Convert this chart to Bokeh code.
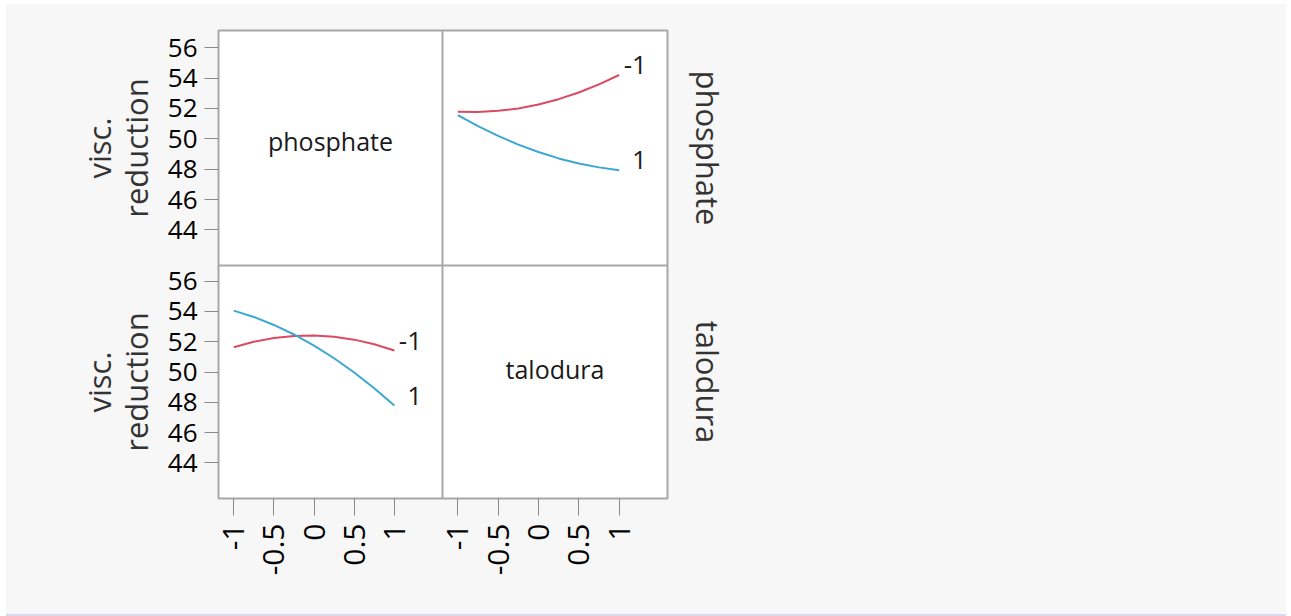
import math
from bokeh.plotting import figure
from bokeh.layouts import row
from bokeh.models import FixedTicker, LinearAxis, Range1d, Span
from bokeh.core.properties import value
from bokeh.embed import file_html
from bokeh.resources import INLINE

# ---------------- data ----------------
factors = ["phosphate", "talodura"]
response = "visc.\nreduction"
line_levels = ["-1", "1"]
x_levels = [-1, -0.75, -0.5, -0.25, 0, 0.25, 0.5, 0.75, 1]

# top-right cell: response vs talodura, one line per phosphate level
tr_phosphate_m1 = [51.78, 51.76, 51.84, 52.00, 52.26, 52.61, 53.05, 53.58, 54.20]
tr_phosphate_p1 = [51.56, 50.84, 50.19, 49.62, 49.13, 48.71, 48.38, 48.12, 47.93]
# bottom-left cell: response vs phosphate, one line per talodura level
bl_talodura_m1 = [51.64, 52.00, 52.25, 52.38, 52.41, 52.33, 52.14, 51.83, 51.42]
bl_talodura_p1 = [54.06, 53.64, 53.11, 52.48, 51.75, 50.91, 49.97, 48.93, 47.78]

y_ticks = [44, 46, 48, 50, 52, 54, 56]
x_ticks = [-1, -0.5, 0, 0.5, 1]
x_tick_labels = ["-1", "-0.5", "0", "0.5", "1"]

# ---------------- style / geometry ----------------
FONT = "Open Sans"
RED = "#dc4a62"
BLUE = "#3ba7d2"
FRAME = "#a8a8a8"
TICK = "#8a8a8a"
BG = "#f7f7f7"
TXT = "#1a1a1a"
TITLE = "#333333"

x_span = (-1.19, 1.6)        # both columns
top_span = (41.66, 57.13)    # top row
bot_span = (41.64, 57.04)    # bottom row
LEFT_W, RIGHT_W = 224, 225   # pixel widths of the two columns
TOP_H, BOT_H = 235, 233      # pixel heights of the two rows
FRAME_W = LEFT_W + RIGHT_W
FRAME_H = TOP_H + BOT_H

PAGE_L, PAGE_T, PAGE_R, H = 6, 4, 1286, 610
FRAME_L, FRAME_T = 218, 30
SPLIT_L = 160                 # left title strip | main plot
MAIN_R = FRAME_L + FRAME_W + 4
BORDER_TOP = FRAME_T - PAGE_T
BORDER_BOTTOM = H - BORDER_TOP - FRAME_H

ppx_l = LEFT_W / (x_span[1] - x_span[0])
ppx_r = RIGHT_W / (x_span[1] - x_span[0])
ppy_t = TOP_H / (top_span[1] - top_span[0])
ppy_b = BOT_H / (bot_span[1] - bot_span[0])

# main ranges = left column / top row ; extra ranges = right column / bottom row
x_main = Range1d(x_span[0], x_span[0] + FRAME_W / ppx_l)
y_main = Range1d(top_span[1] - FRAME_H / ppy_t, top_span[1])
x_right = Range1d(x_span[1] - FRAME_W / ppx_r, x_span[1])
y_bottom = Range1d(bot_span[0], bot_span[0] + FRAME_H / ppy_b)


def strip(x0, x1):
    s = figure(width=x1 - x0, height=H, x_range=Range1d(x0, x1),
               y_range=Range1d(y_main.start, y_main.end),
               output_backend="svg", toolbar_location=None,
               x_axis_location=None, y_axis_location=None,
               min_border_left=0, min_border_right=0,
               min_border_top=BORDER_TOP, min_border_bottom=BORDER_BOTTOM)
    s.extra_y_ranges = {"bottom": Range1d(y_bottom.start, y_bottom.end)}
    s.grid.visible = False
    s.background_fill_color = BG
    s.border_fill_color = BG
    s.outline_line_color = None
    return s


def two_rows(s, x, texts, angle, **kw):
    style = dict(angle=angle, text_align="center", text_baseline="middle",
                 text_font=value(FONT), text_font_size="31px", text_color=TITLE, **kw)
    s.text(x=[x], y=[(top_span[0] + top_span[1]) / 2], text=[texts[0]], **style)
    s.text(x=[x], y=[(bot_span[0] + bot_span[1]) / 2], text=[texts[1]],
           y_range_name="bottom", **style)


# ---- left strip: response titles ----
left = strip(PAGE_L, SPLIT_L)
two_rows(left, 117, [response, response], math.pi / 2, text_line_height=0.9)

# ---- right strip: factor names ----
right = strip(MAIN_R, PAGE_R)
two_rows(right, 707, factors, -math.pi / 2)

# ---- main plot: the 2x2 cells ----
p = figure(width=MAIN_R - SPLIT_L, height=H, x_range=x_main, y_range=y_main,
           output_backend="svg", toolbar_location=None,
           x_axis_location=None, y_axis_location=None,
           min_border_left=FRAME_L - SPLIT_L, min_border_right=4,
           min_border_top=BORDER_TOP, min_border_bottom=BORDER_BOTTOM)
p.extra_x_ranges = {"right": x_right}
p.extra_y_ranges = {"bottom": y_bottom}
p.grid.visible = False
p.background_fill_color = "white"
p.border_fill_color = BG
p.outline_line_color = FRAME
p.outline_line_width = 2

p.add_layout(Span(location=x_span[1], dimension="height", line_color=FRAME, line_width=2))
p.add_layout(Span(location=top_span[0], dimension="width", line_color=FRAME, line_width=2))


def right_to_main(v):
    return x_span[0] + (LEFT_W + (v - x_span[0]) * ppx_r) / ppx_l


def bottom_to_main(v):
    return top_span[1] - (TOP_H + (bot_span[1] - v) * ppy_b) / ppy_t


yt = list(y_ticks) + [bottom_to_main(v) for v in y_ticks]
yl = [str(v) for v in y_ticks] * 2
yax = LinearAxis(ticker=FixedTicker(ticks=yt))
yax.major_label_overrides = dict(zip(yt, yl))
yax.axis_line_color = None
yax.major_tick_line_color = TICK
yax.major_tick_out = 14
yax.major_tick_in = 0
yax.minor_tick_line_color = None
yax.major_label_text_font = FONT
yax.major_label_text_font_size = "26px"
yax.major_label_text_color = "black"
yax.major_label_standoff = 7
p.add_layout(yax, "left")

xt = list(x_ticks) + [right_to_main(v) for v in x_ticks]
xl = list(x_tick_labels) * 2
xax = LinearAxis(ticker=FixedTicker(ticks=xt))
xax.major_label_overrides = dict(zip(xt, xl))
xax.axis_line_color = None
xax.major_tick_line_color = TICK
xax.major_tick_out = 17
xax.major_tick_in = 0
xax.minor_tick_line_color = None
xax.major_label_orientation = math.pi / 2
xax.major_label_text_font = FONT
xax.major_label_text_font_size = "30px"
xax.major_label_text_color = "black"
xax.major_label_standoff = 8
p.add_layout(xax, "below")

lab_x = x_levels[-1] + 0.345
p.line(x_levels, tr_phosphate_m1, line_color=RED, line_width=2, x_range_name="right")
p.line(x_levels, tr_phosphate_p1, line_color=BLUE, line_width=2, x_range_name="right")
p.text(x=[lab_x, lab_x], y=[tr_phosphate_m1[-1], tr_phosphate_p1[-1]], text=line_levels,
       x_range_name="right", text_align="right", text_baseline="middle", y_offset=-10,
       text_font=value(FONT), text_font_size="26px", text_color=TXT)

p.line(x_levels, bl_talodura_m1, line_color=RED, line_width=2, y_range_name="bottom")
p.line(x_levels, bl_talodura_p1, line_color=BLUE, line_width=2, y_range_name="bottom")
p.text(x=[lab_x, lab_x], y=[bl_talodura_m1[-1], bl_talodura_p1[-1]], text=line_levels,
       y_range_name="bottom", text_align="right", text_baseline="middle", y_offset=-10,
       text_font=value(FONT), text_font_size="26px", text_color=TXT)

x_mid = (x_span[0] + x_span[1]) / 2
p.text(x=[x_mid], y=[(top_span[0] + top_span[1]) / 2], text=[factors[0]],
       text_align="center", text_baseline="middle", y_offset=-7,
       text_font=value(FONT), text_font_size="25px", text_color=TXT)
p.text(x=[x_mid], y=[(bot_span[0] + bot_span[1]) / 2], text=[factors[1]],
       x_range_name="right", y_range_name="bottom",
       text_align="center", text_baseline="middle", y_offset=-13,
       text_font=value(FONT), text_font_size="25px", text_color=TXT)

layout = row(left, p, right)
layout.margin = (PAGE_T, 1291 - PAGE_R, 0, PAGE_L)
layout.styles = {"background-color": BG, "border-bottom": "2px solid #d6daea"}

open("out.html", "w").write(file_html(layout, INLINE))
